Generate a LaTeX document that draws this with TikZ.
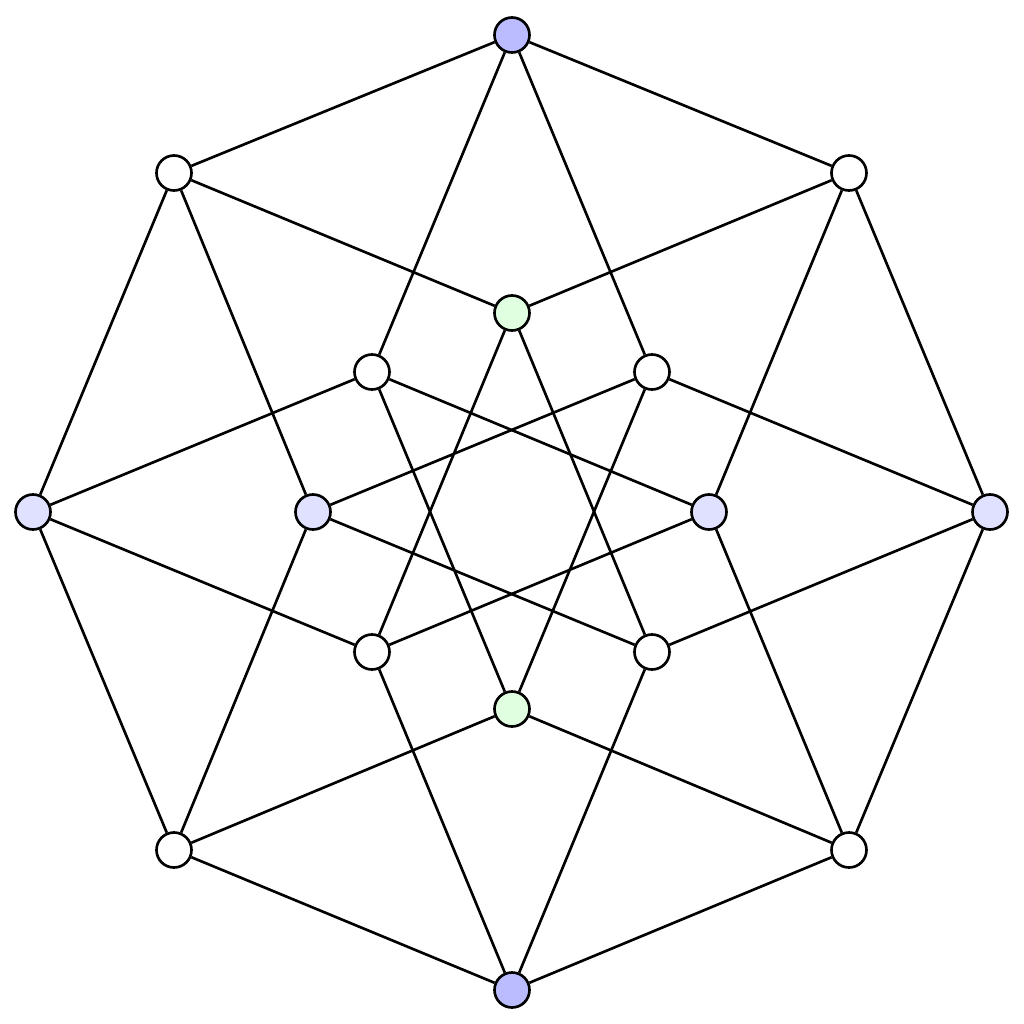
\documentclass[tikz,border=0pt]{standalone}
\begin{document}
\begin{tikzpicture}[x=0.01cm,y=-0.01cm,
  vtx/.style={circle,draw=black,line width=0.75pt,minimum size=0.35cm,inner sep=0pt,fill=white},
  vblue/.style={vtx,fill={rgb,255:red,187;green,187;blue,255}},
  vlav/.style={vtx,fill={rgb,255:red,224;green,224;blue,255}},
  vgreen/.style={vtx,fill={rgb,255:red,224;green,255;blue,224}},
  edge/.style={draw=black,line width=0.75pt}]
\useasboundingbox (0,0) rectangle (1024,1024);
% outer
\node[vblue] (T) at (512,35) {};
\node[vtx] (TR) at (849,173) {};
\node[vlav] (R) at (990,512) {};
\node[vtx] (BR) at (849,850) {};
\node[vblue] (B) at (512,990) {};
\node[vtx] (BL) at (174,850) {};
\node[vlav] (L) at (33,512) {};
\node[vtx] (TL) at (174,173) {};
% inner
\node[vgreen] (iT) at (512,313) {};
\node[vtx] (iTL) at (372,372) {};
\node[vtx] (iTR) at (652,372) {};
\node[vlav] (iL) at (313,512) {};
\node[vlav] (iR) at (709,512) {};
\node[vtx] (iBL) at (372,652) {};
\node[vtx] (iBR) at (652,652) {};
\node[vgreen] (iB) at (512,709) {};
% octagon
\draw[edge] (T) -- (TR);
\draw[edge] (TR) -- (R);
\draw[edge] (R) -- (BR);
\draw[edge] (BR) -- (B);
\draw[edge] (B) -- (BL);
\draw[edge] (BL) -- (L);
\draw[edge] (L) -- (TL);
\draw[edge] (TL) -- (T);
% outer to inner
\draw[edge] (T) -- (iTL);
\draw[edge] (T) -- (iTR);
\draw[edge] (TL) -- (iT);
\draw[edge] (TL) -- (iL);
\draw[edge] (TR) -- (iT);
\draw[edge] (TR) -- (iR);
\draw[edge] (L) -- (iTL);
\draw[edge] (L) -- (iBL);
\draw[edge] (R) -- (iTR);
\draw[edge] (R) -- (iBR);
\draw[edge] (BL) -- (iL);
\draw[edge] (BL) -- (iB);
\draw[edge] (BR) -- (iR);
\draw[edge] (BR) -- (iB);
\draw[edge] (B) -- (iBL);
\draw[edge] (B) -- (iBR);
% inner
\draw[edge] (iT) -- (iBL);
\draw[edge] (iT) -- (iBR);
\draw[edge] (iTL) -- (iR);
\draw[edge] (iTL) -- (iB);
\draw[edge] (iTR) -- (iL);
\draw[edge] (iTR) -- (iB);
\draw[edge] (iL) -- (iBR);
\draw[edge] (iR) -- (iBL);
\end{tikzpicture}
\end{document}
